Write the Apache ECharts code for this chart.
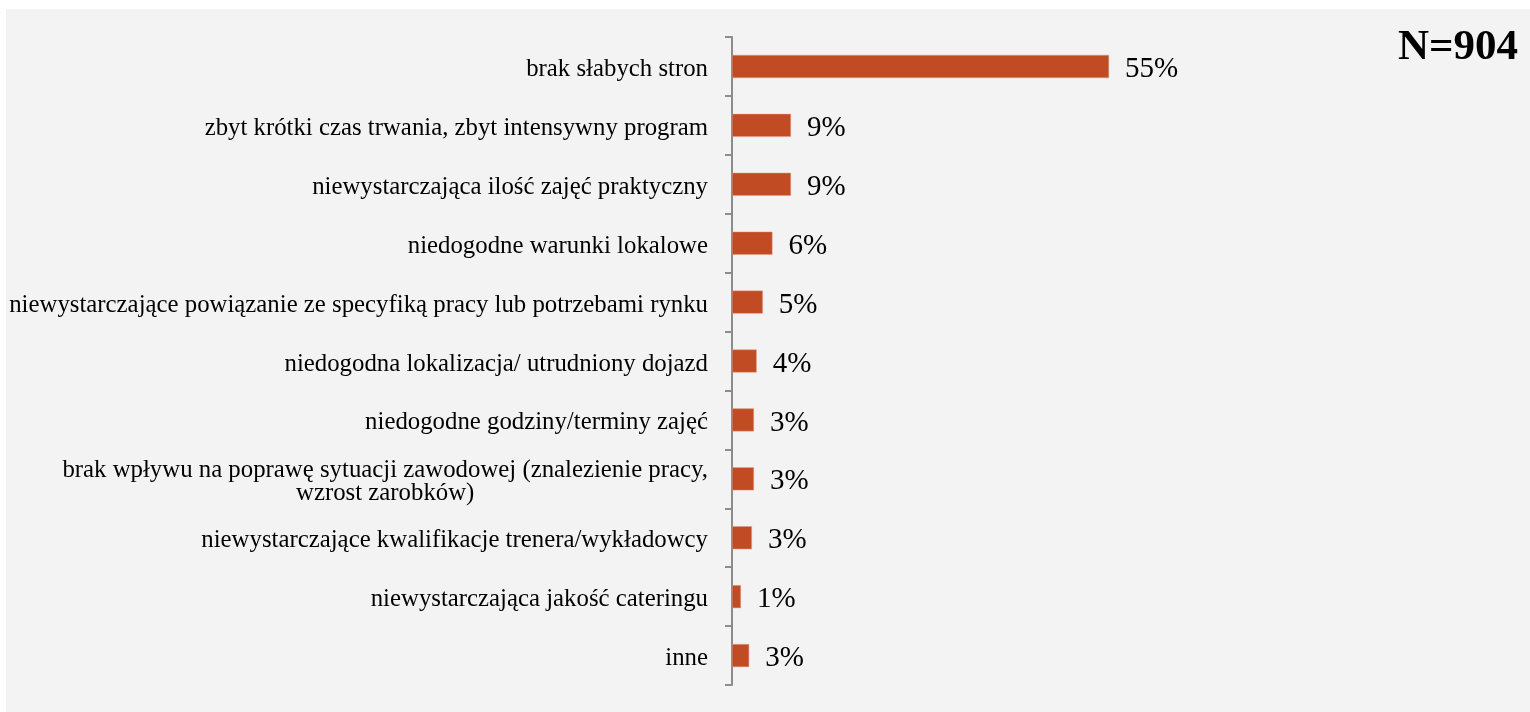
<!DOCTYPE html>
<html>
<head>
<meta charset="utf-8">
<script src="https://cdn.jsdelivr.net/npm/echarts@6/dist/echarts.min.js"></script>
<style>
html,body{margin:0;padding:0;background:#ffffff;}
#chart{width:1530px;height:712px;}
</style>
</head>
<body>
<div id="chart"></div>
<script>
var categories = [
  'brak słabych stron',
  'zbyt krótki czas trwania, zbyt intensywny program',
  'niewystarczająca ilość zajęć praktyczny',
  'niedogodne warunki lokalowe',
  'niewystarczające powiązanie ze specyfiką pracy lub potrzebami rynku',
  'niedogodna lokalizacja/ utrudniony dojazd',
  'niedogodne godziny/terminy zajęć',
  'brak wpływu na poprawę sytuacji zawodowej (znalezienie pracy,\nwzrost zarobków)',
  'niewystarczające kwalifikacje trenera/wykładowcy',
  'niewystarczająca jakość cateringu',
  'inne'
];
var values = [55, 8.6, 8.6, 5.9, 4.5, 3.6, 3.2, 3.2, 2.9, 1.3, 2.5];
var valueLabels = ['55%', '9%', '9%', '6%', '5%', '4%', '3%', '3%', '3%', '1%', '3%'];
var sampleSize = 'N=904';

var serif = '"Liberation Serif", "Times New Roman", serif';
var catSize = 24.8;
var cv = document.createElement('canvas').getContext('2d');
cv.font = catSize + 'px ' + serif;

var chart = echarts.init(document.getElementById('chart'), null, {renderer: 'canvas'});
chart.setOption({
  animation: false,
  backgroundColor: '#ffffff',
  graphic: [
    {type: 'rect', left: 6, top: 9, shape: {width: 1524, height: 703}, style: {fill: '#f3f3f3'}, z: -10, silent: true},
    {type: 'text', right: 12, top: 26, style: {text: sampleSize, font: 'bold 43px ' + serif, fill: '#000'}}
  ],
  grid: {left: 732, top: 37, width: 685.5, height: 648},
  xAxis: {
    type: 'value', min: 0, max: 100, show: false
  },
  yAxis: {
    type: 'category',
    inverse: true,
    data: categories,
    axisLine: {show: true, lineStyle: {color: '#8c8c8c', width: 2}},
    axisTick: {show: true, length: 7, lineStyle: {color: '#8c8c8c', width: 2}},
    axisLabel: {
      margin: 24,
      color: '#000',
      fontFamily: serif,
      fontSize: catSize,
      lineHeight: 23,
      padding: [6, 0, 0, 0],
      formatter: function (v) {
        if (v.indexOf('\n') >= 0) {
          return '{c|' + v + '}';
        }
        return v;
      },
      rich: {
        c: {
          align: 'center',
          width: cv.measureText(categories[7].split('\n')[0]).width,
          fontFamily: serif,
          fontSize: catSize,
          lineHeight: 23,
          color: '#000'
        }
      }
    }
  },
  series: [{
    type: 'bar',
    data: values,
    barWidth: 23,
    itemStyle: {color: '#c14b23', borderColor: '#e39a80', borderWidth: 0.5},
    label: {
      show: true,
      position: 'right',
      distance: 16,
      color: '#000',
      fontFamily: serif,
      fontSize: 29,
      offset: [0, 3],
      formatter: function (p) { return valueLabels[p.dataIndex]; }
    }
  }]
});
</script>
</body>
</html>
